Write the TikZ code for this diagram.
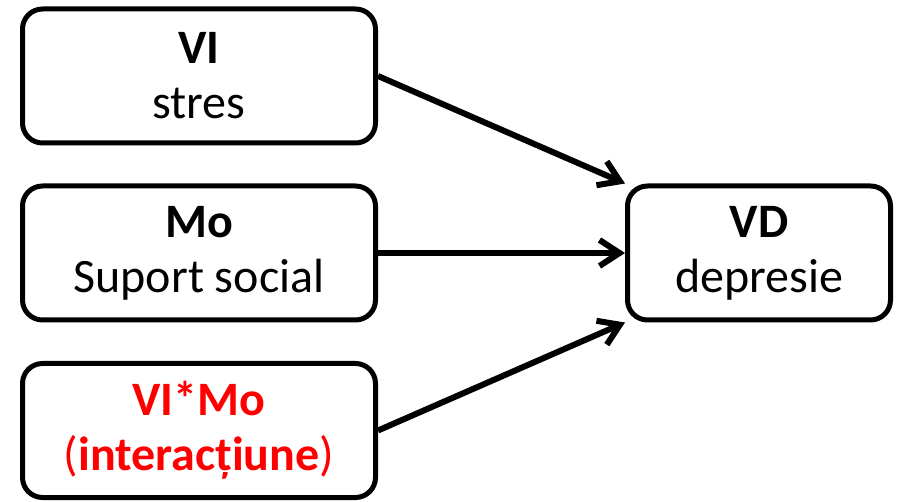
\documentclass[tikz,border=0pt]{standalone}
\usepackage{fontspec}
\setmainfont{Carlito}
\usetikzlibrary{arrows.meta}
\begin{document}
\begin{tikzpicture}[x=0.5pt, y=-0.5pt, node distance=88.5pt, line width=2.5pt, font=\fontsize{24}{27.5}\selectfont]
    % Define styles
    \tikzstyle{var} = [rectangle, draw, fill=white, align=center, rounded corners=10pt, minimum width=176.5pt, minimum height=67pt, inner sep=0pt]
    \tikzstyle{dep} = [var, minimum width=131.5pt, minimum height=67pt]
    \tikzstyle{line} = [draw, line width=3pt, -{Straight Barb[length=10pt, width=13pt]}]

    \useasboundingbox (0,0) rectangle (900,502);

    % Place nodes - predictors
    \node [var] (vi) at (199,76) {\textbf{VI}\\stres};
    \node [var, below of=vi] (mo) {\textbf{Mo}\\Suport social};
    \node [var, below of=mo, node distance=88.75pt, text=red] (vimo) {\textbf{VI*Mo}\\(\textbf{interacțiune})};

    % Place nodes - outcome
    \node [dep, right of=mo, node distance=280pt] (vd) {\textbf{VD}\\depresie};

    % Draw edges
    \path [line] (vi.east) -- (vd.north west);
    \path [line] (mo) -- (vd);
    \path [line] (vimo.east) -- (vd.south west);
\end{tikzpicture}
\end{document}
